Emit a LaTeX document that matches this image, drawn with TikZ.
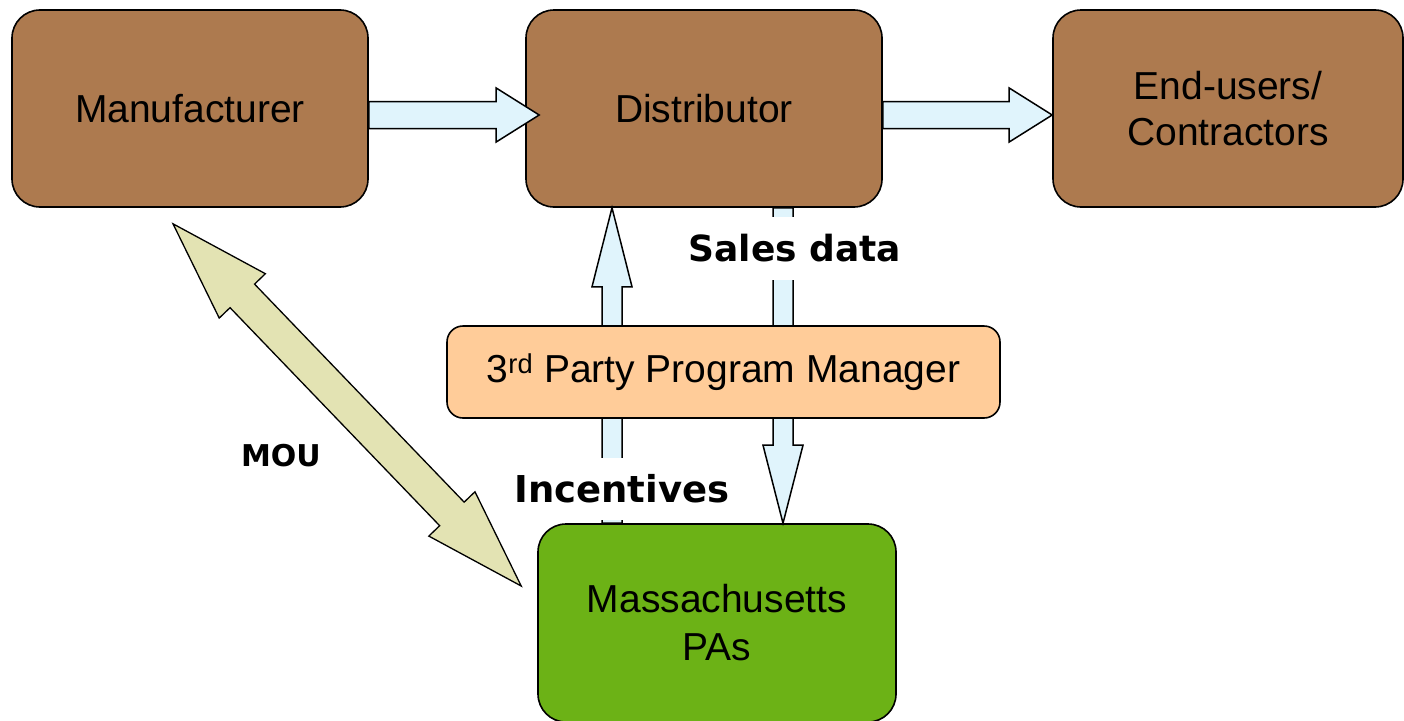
\documentclass[tikz,border=0pt]{standalone}
\usepackage{fontspec}
\setmainfont{Liberation Sans}
\newfontfamily\verd{DejaVu Sans}
\usetikzlibrary{calc}
\definecolor{brownbox}{HTML}{AD7A4F}
\definecolor{greenbox}{HTML}{6CB216}
\definecolor{peach}{HTML}{FFCC99}
\definecolor{iceblue}{HTML}{E0F4FC}
\definecolor{moufill}{HTML}{E3E3B3}
% #1 start, #2 tip, #3 half shaft, #4 half head, #5 head length, #6 style
\newcommand\blockarrow[6]{%
  \coordinate (ba-c) at ($(#2)!#5!(#1)$);
  \draw[#6] ($(#1)!#3!90:(#2)$) -- ($(ba-c)!#3!-90:(#1)$) -- ($(ba-c)!#4!-90:(#1)$) -- (#2)
    -- ($(ba-c)!#4!90:(#1)$) -- ($(ba-c)!#3!90:(#1)$) -- ($(#1)!#3!-90:(#2)$) -- cycle;
}
% double arrow
\newcommand\dblarrow[6]{%
  \coordinate (da-c1) at ($(#1)!#5!(#2)$);
  \coordinate (da-c2) at ($(#2)!#5!(#1)$);
  \draw[#6] (#1) -- ($(da-c1)!#4!90:(#2)$) -- ($(da-c1)!#3!90:(#2)$) -- ($(da-c2)!#3!-90:(#1)$)
    -- ($(da-c2)!#4!-90:(#1)$) -- (#2) -- ($(da-c2)!#4!90:(#1)$) -- ($(da-c2)!#3!90:(#1)$)
    -- ($(da-c1)!#3!-90:(#2)$) -- ($(da-c1)!#4!-90:(#2)$) -- cycle;
}
\tikzset{
  box/.style={draw=black, line width=1.6pt, rounded corners=28pt, inner sep=0pt, align=center,
    font=\fontsize{39}{46}\selectfont},
  brown/.style={box, fill=brownbox, minimum width=356pt, minimum height=197pt},
  flowarrow/.style={draw=black, line width=1.5pt, fill=iceblue, line join=miter},
  mouarrow/.style={draw=black, line width=1.3pt, fill=moufill, line join=miter},
  lbl/.style={font=\verd\bfseries\fontsize{36}{40}\selectfont, inner sep=0pt},
}
\begin{document}
\begin{tikzpicture}[x=1pt,y=-1pt]
\useasboundingbox (0,0) rectangle (1404,720);
\clip (0,0) rectangle (1404,720);
% boxes
\node[brown] (man) at (190,108.5) {\raisebox{-2pt}{Manufacturer}};
\node[brown] (dist) at (704,108.5) {\raisebox{-2pt}{Distributor}};
\node[brown, minimum width=350pt] (end) at (1228,108.5) {End-users/\\Contractors};
\node[box, fill=greenbox, minimum width=358pt, minimum height=198pt, font=\fontsize{39}{48}\selectfont] (pa) at (717,623) {Massachusetts\\PAs};
% horizontal arrows
\coordinate (h1s) at ($(man.east)+(0,6.5)$);
\coordinate (h1e) at ($(dist.west)+(14,6.5)$);
\blockarrow{h1s}{h1e}{13.5pt}{27pt}{43pt}{flowarrow}
\coordinate (h2s) at ($(dist.east)+(0,6.5)$);
\coordinate (h2e) at ($(end.west)+(0,6.5)$);
\blockarrow{h2s}{h2e}{13.5pt}{27pt}{43pt}{flowarrow}
% vertical arrows
\coordinate (us) at ($(pa.north)+(-105,0)$);
\coordinate (ue) at (us |- dist.south);
\blockarrow{us}{ue}{10pt}{20pt}{79pt}{flowarrow}
\coordinate (ds) at ($(dist.south)+(79,0)$);
\coordinate (de) at (ds |- pa.north);
\blockarrow{ds}{de}{10pt}{20pt}{78pt}{flowarrow}
% MOU arrow
\coordinate (m1) at ($(man.south)+(-17,16)$);
\coordinate (m2) at ($(pa.west)+(-16,-37)$);
\dblarrow{m1}{m2}{17pt}{32pt}{100pt}{mouarrow}
% third party
\node[box, fill=peach, rounded corners=16pt, minimum width=553pt, minimum height=92pt] (tp) at (723.5,372) {\raisebox{-4pt}{3\textsuperscript{rd} Party Program Manager}};
% labels
\node[lbl, fill=white, minimum height=63pt] (sales) at (795,248.5) {Sales data};
\node[lbl, fill=white, minimum height=62pt, font=\verd\bfseries\fontsize{37}{40}\selectfont] (inc) at (622,488.5) {Incentives};
\node[lbl, font=\verd\bfseries\fontsize{30}{34}\selectfont] (mou) at (281,456) {MOU};
\end{tikzpicture}
\end{document}
